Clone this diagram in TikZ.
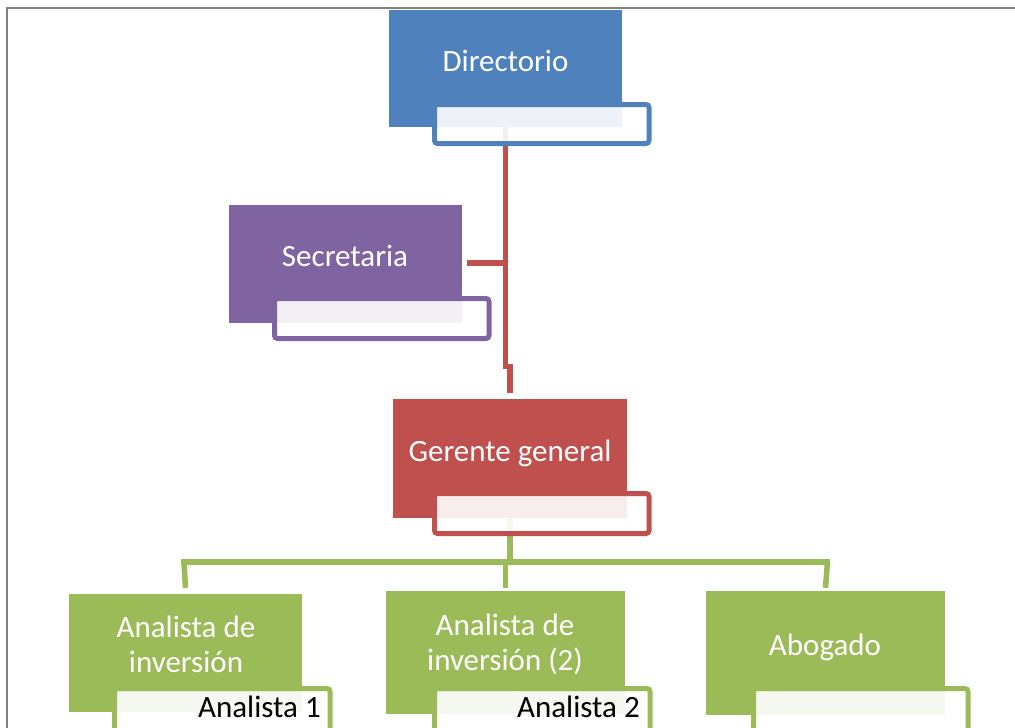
\documentclass[tikz,border=0pt]{standalone}
\usepackage{fontspec}
\setmainfont{Carlito}
\usetikzlibrary{calc,backgrounds}
\definecolor{cblue}{HTML}{4F81BD}
\definecolor{cpurple}{HTML}{8064A2}
\definecolor{cred}{HTML}{C0504D}
\definecolor{cgreen}{HTML}{9BBB59}
\definecolor{framegray}{HTML}{808080}
\tikzset{
  mainbox/.style={draw=none, fill=#1, inner sep=0pt},
  tbox/.style={draw=#1, line width=5pt, rounded corners=3pt, fill=white, fill opacity=0.9, draw opacity=1, inner sep=0pt},
  lbl/.style={text=white, font=\fontsize{31}{35}\selectfont, align=center, inner sep=0pt},
  sublbl/.style={text=black, font=\fontsize{31}{35}\selectfont, inner sep=0pt},
  redline/.style={draw=cred, line width=5.2pt},
  greenline/.style={draw=cgreen, line width=5.5pt},
}
\begin{document}
\begin{tikzpicture}[x=1pt,y=-1pt]
\useasboundingbox (0,0) rectangle (1015,728);
% frame
\draw[framegray, line width=2pt] (7,728) -- (7,7.5) -- (1015,7.5);

% main boxes
\node[mainbox=cblue, minimum width=233pt, minimum height=117pt] (dir) at (505.5,68.5) {};
\node[mainbox=cpurple, minimum width=233pt, minimum height=118pt] (sec) at (345.5,264) {};
\node[mainbox=cred, minimum width=234pt, minimum height=119pt] (ger) at (510,458.5) {};
\node[mainbox=cgreen, minimum width=233pt, minimum height=118pt] (an1) at (185.5,653) {};
\node[mainbox=cgreen, minimum width=239pt, minimum height=123pt] (an2) at (505.5,652.5) {};
\node[mainbox=cgreen, minimum width=239pt, minimum height=124pt] (abo) at (825.5,653) {};

% connectors (behind boxes)
\coordinate (rjog1) at ($(dir.south)+(0,239)$);
\coordinate (rjog2) at ($(rjog1)+(4.5,0)$);
\coordinate (rend) at ($(ger.north)+(0,-6)$);
\coordinate (sbr) at ($(sec.east)+(5,-1)$);
\coordinate (sjoin) at (dir.south |- sbr);
\coordinate (gtop) at (ger.south);
\coordinate (gmid) at (510,562);
\coordinate (gleft) at (184,562);
\coordinate (gright) at (827.5,562);
\coordinate (e1) at ($(an1.north)+(0,-6)$);
\coordinate (e2) at ($(an2.north)+(0,-3)$);
\coordinate (e3) at ($(abo.north)+(0,-3)$);
\begin{scope}[on background layer]
  \draw[redline] (dir.south) -- (rjog1) -- (rjog2) -- (rend);
  \draw[redline] (sbr) -- (sjoin);
  \draw[greenline] (gtop) -- (gmid);
  \draw[greenline, line cap=rect] (gleft) -- (gright);
  \draw[greenline] (gleft) -- (e1);
  \draw[greenline] (e2 |- gmid) -- (e2);
  \draw[greenline] (gright) -- (e3);
\end{scope}

% text boxes
\draw[tbox=cblue] (434.5,104.5) rectangle (649,143.5);
\draw[tbox=cpurple] (274.5,298.5) rectangle (489,338.5);
\draw[tbox=cred] (434.5,493.5) rectangle (649,533.5);
\draw[tbox=cgreen] (114.5,688.5) rectangle (330,732);
\draw[tbox=cgreen] (434.5,688.5) rectangle (650,732);
\draw[tbox=cgreen] (753.5,688.5) rectangle (968,732);

% labels
\node[lbl, anchor=base] (dirl) at (505.5,71) {Directorio};
\node[lbl, anchor=base] (secl) at (345,266) {Secretaria};
\node[lbl, anchor=base] (gerl) at (510,461) {Gerente general};
\node[lbl, anchor=center] (an1l) at (186,644) {Analista de\\inversión};
\node[lbl, anchor=center] (an2l) at (505,644) {Analista de\\inversión (2)};
\node[lbl, anchor=base] (abol) at (825,655) {Abogado};
\node[sublbl, anchor=base east] (an1s) at (321,717) {Analista 1};
\node[sublbl, anchor=base east] (an2s) at (640,717) {Analista 2};
\end{tikzpicture}
\end{document}
